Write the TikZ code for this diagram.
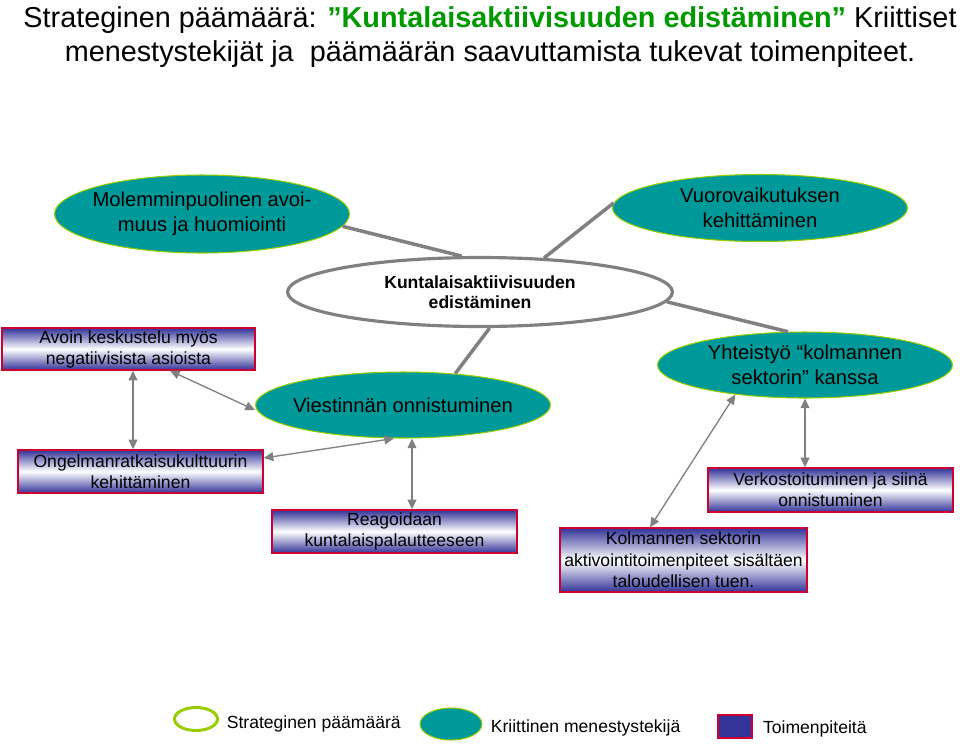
\documentclass[tikz,border=0pt]{standalone}
\usepackage{fontspec}
\setmainfont{Liberation Sans}
\usetikzlibrary{arrows.meta,positioning,shapes.geometric}

\definecolor{critteal}{RGB}{0,153,153}
\definecolor{limeedge}{RGB}{153,204,0}
\definecolor{actblue}{RGB}{51,51,153}
\definecolor{actred}{RGB}{204,0,51}
\definecolor{linkgray}{RGB}{128,128,128}
\definecolor{titlegreen}{RGB}{0,153,0}

\begin{document}
\begin{tikzpicture}[
  x=0.02cm, y=-0.02cm,
  critstyle/.style={ellipse, fill=critteal, draw=limeedge, line width=0.6pt, inner sep=0pt, minimum width=5.9cm},
  crittext/.style={align=center, inner sep=0pt, font=\fontsize{11.5}{14.5}\selectfont},
  goalstyle/.style={ellipse, fill=white, draw=linkgray, line width=1.8pt, inner sep=0pt, align=center, font=\fontsize{10}{11.5}\selectfont\bfseries},
  actstyle/.style={rectangle, draw=actred, line width=0.8pt, top color=actblue, bottom color=actblue, middle color=white, align=center, inner sep=1pt, font=\fontsize{10}{12}\selectfont},
  linkline/.style={draw=linkgray, line width=2pt},
  twoway/.style={>={Triangle[length=5.5pt,width=5pt]}, <->, draw=linkgray, fill=linkgray, line width=0.75pt},
  legtext/.style={inner sep=0pt, font=\fontsize{10}{12}\selectfont},
]
\useasboundingbox (0,0) rectangle (960,745);

% --- heading ---
\node[align=center, font=\fontsize{16.4}{19.3}\selectfont] (title) at (490,37)
  {Strateginen päämäärä: {\color{titlegreen}\bfseries ”Kuntalaisaktiivisuuden edistäminen”} Kriittiset\\
   menestystekijät ja~ päämäärän saavuttamista tukevat toimenpiteet.};

% --- strategic goal ---
\node[goalstyle, minimum width=7.7cm, minimum height=1.38cm] (goal) at (480,292)
  {Kuntalaisaktiivisuuden\\edistäminen};

% --- critical success factors ---
\node[critstyle, minimum height=1.56cm] (mol) at (202,214) {};
\node[crittext] (mol-t) at (mol.center) {Molemminpuolinen avoi-\\muus ja huomiointi};
\node[critstyle, minimum height=1.34cm] (vuoro) at (760,208) {};
\node[crittext] (vuoro-t) at (vuoro.center) {Vuorovaikutuksen\\kehittäminen};
\node[critstyle, minimum height=1.32cm] (viest) at (403,405) {};
\node[crittext] (viest-t) at (viest.center) {Viestinnän onnistuminen};
\node[critstyle, minimum height=1.32cm] (yhteis) at (805,365) {};
\node[crittext] (yhteis-t) at (yhteis.center) {Yhteistyö “kolmannen\\sektorin” kanssa};

% goal to factors
\draw[linkline] (goal.117) -- (mol.-5);
\draw[linkline] (goal.28) -- (vuoro.178);
\draw[linkline] (goal.-75) -- (viest.31);
\draw[linkline] (goal.-3) -- (yhteis.117);

% --- actions (shaded boxes) ---
\node[actstyle, minimum width=5.06cm, minimum height=0.84cm] (avoin) at (128.5,349)
  {Avoin keskustelu myös\\negatiivisista asioista};
\node[actstyle, minimum width=4.9cm, minimum height=0.86cm] (ongel) at (140.5,471.5)
  {Ongelmanratkaisukulttuurin\\kehittäminen};
\node[actstyle, minimum width=4.9cm, minimum height=0.86cm] (reag) at (394.5,531.5)
  {Reagoidaan\\kuntalaispalautteeseen};
\node[actstyle, minimum width=4.9cm, minimum height=0.88cm] (verko) at (830.5,490)
  {Verkostoituminen ja siinä\\onnistuminen};
\node[actstyle, minimum width=4.94cm, minimum height=1.28cm, font=\fontsize{10}{12.2}\selectfont] (kolm) at (683.5,560)
  {Kolmannen sektorin\\aktivointitoimenpiteet sisältäen\\taloudellisen tuen.};

% two-way arrows
\draw[twoway] ([xshift=0.09cm]avoin.south) -- ([xshift=0.09cm]avoin.south |- ongel.north);
\draw[twoway] ([xshift=0.83cm]avoin.south) -- ([yshift=-0.1cm]viest.west);
\draw[twoway] ([yshift=0.27cm]ongel.east) -- (viest.255);
\draw[twoway] ([xshift=0.35cm]reag.north |- viest.south) -- ([xshift=0.35cm]reag.north);
\draw[twoway] (yhteis.south) -- (yhteis.south |- verko.north);
\draw[twoway] (yhteis.203) -- ([xshift=-0.67cm]kolm.north);

% --- legend ---
\node[ellipse, draw=limeedge, line width=1.7pt, minimum width=0.86cm, minimum height=0.46cm, inner sep=0pt] (lgoal) at (196,719) {};
\node[legtext, right=1.5mm of lgoal, yshift=-0.1cm] (lgoal-t) {Strateginen päämäärä};
\node[critstyle, minimum width=1.24cm, minimum height=0.64cm] (lcrit) at (451,724) {};
\node[legtext, right=1.6mm of lcrit, yshift=-0.08cm] (lcrit-t) {Kriittinen menestystekijä};
\node[draw=actred, fill=actblue, line width=0.8pt, minimum width=0.68cm, minimum height=0.46cm, inner sep=0pt] (lact) at (735,726.5) {};
\node[legtext, right=2mm of lact, yshift=-0.04cm] (lact-t) {Toimenpiteitä};

\end{tikzpicture}
\end{document}
